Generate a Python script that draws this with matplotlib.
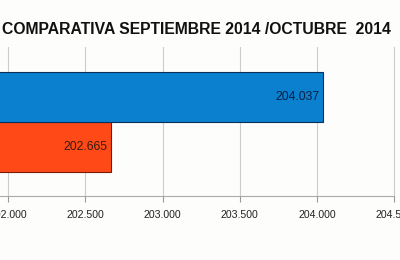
import matplotlib.pyplot as plt

# datos
meses = ['Octubre 2014', 'Septiembre 2014']
valores = [202.665, 204.037]
colores = ['#ff4a17', '#0a80cf']
bordes = ['#7a1a05', '#0a2f5a']
xticks = [201.5, 202.0, 202.5, 203.0, 203.5, 204.0, 204.5]
titulo = 'COMPARATIVA SEPTIEMBRE 2014 /OCTUBRE  2014'

plt.rcParams['font.family'] = ['Liberation Sans', 'DejaVu Sans']

fig = plt.figure(figsize=(4, 2.6), dpi=100)
fig.patch.set_facecolor('#fdfdfb')
# el gráfico original está recortado por la izquierda
ax = fig.add_axes([-0.1725, 0.246, 1.1575, 0.573])
ax.set_facecolor('#fdfdfb')

pos = range(len(valores))
ax.barh(pos, valores, height=1.0, color=colores, edgecolor=bordes, linewidth=0.8,
        left=0, zorder=3)
for p, v in zip(pos, valores):
    ax.text(v - 0.02, p, f'{v:.3f}', ha='right', va='center', fontsize=8.8,
            color='#3a1a10' if p == 0 else '#0a2040', zorder=4)

ax.set_xlim(201.5, 204.5)
ax.set_ylim(-0.98, 2.0)
ax.set_xticks(xticks)
ax.set_xticklabels([f'{t:.3f}' for t in xticks])
ax.set_yticks([])
ax.tick_params(axis='x', labelsize=7.6, length=4, width=0.8, pad=6,
               colors='#999999', labelcolor='#222222')
ax.grid(axis='x', color='#cccccc', linewidth=0.8, zorder=0)
for s in ['top', 'left']:
    ax.spines[s].set_visible(False)
ax.spines['bottom'].set_color('#aaaaaa')
ax.spines['right'].set_color('#cccccc')

fig.text(0.005, 1 - 30 / 260, titulo, ha='left', va='center', fontsize=11.3,
         fontweight='bold', color='#111111')

fig.savefig('out.png', dpi=100, facecolor=fig.get_facecolor())
